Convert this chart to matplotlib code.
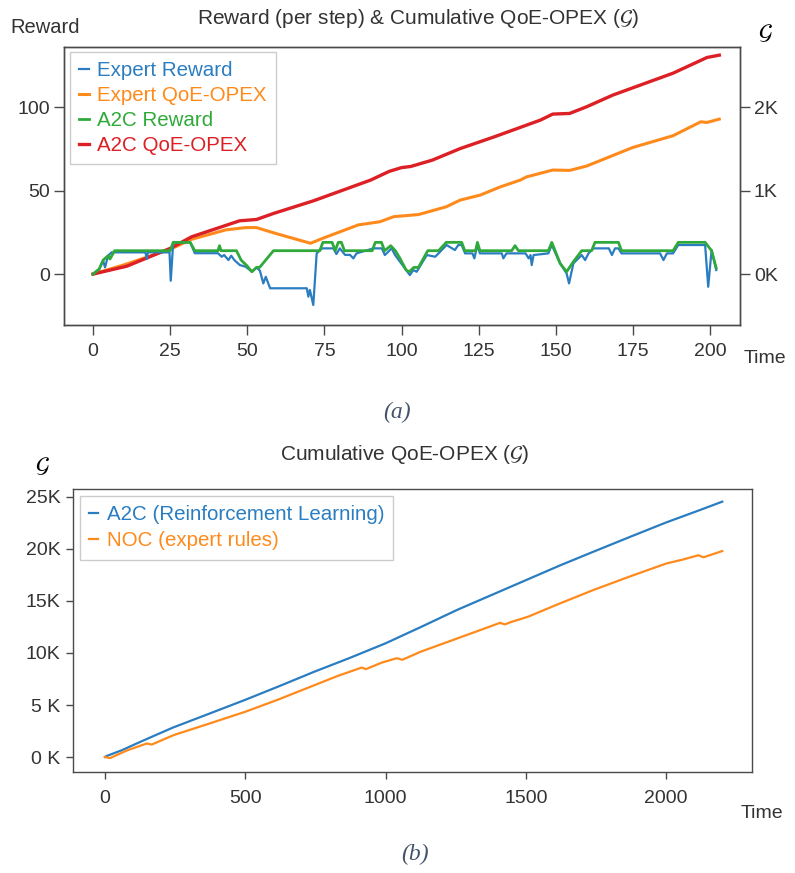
import matplotlib.pyplot as plt
from matplotlib.ticker import FixedLocator

plt.rcParams['font.family'] = ['Liberation Sans', 'DejaVu Sans']
plt.rcParams['mathtext.fontset'] = 'stix'

# --- (a) per-step reward (left axis units)
exp_rew_t = [0, 2, 3.3, 3.9, 4.9, 6, 17, 17.4, 17.8, 24.8, 25.2, 26, 31.5, 33, 40.5, 41.7,
             42.5, 43.9, 44.8, 45.8, 47.6, 49.5, 51.5, 53, 54.1, 55.2, 56, 57.4, 69.3, 69.8,
             70.3, 71.4, 72.5, 74.2, 77.9, 78.9, 80, 81.7, 83.3, 84.4, 85.4, 90.9, 93.6, 94.6,
             96.8, 97.9, 102.7, 103.8, 104.9, 108.2, 110.9, 112, 114.6, 117.3, 118.4, 119.5,
             120.6, 123, 123.6, 124.6, 125.4, 132.5, 133, 134, 140.2, 141.2, 141.8, 142.2,
             142.8, 147.6, 148.7, 151.4, 153.5, 154.3, 155.7, 158.4, 159.5, 160.6, 162.2,
             167.2, 168.2, 169.2, 170.3, 171.3, 183.8, 184.9, 186, 188, 189.7, 198.4, 199.4,
             200.5, 202]
exp_rew = [0, 3, 8, 4, 11, 13, 13, 9, 13, 13, -4, 19, 19, 12.5, 12.5, 10.4,
           11.4, 8.4, 11, 8.4, 5.4, 4.4, 1.4, 4, 2, -5.6, -1.6, -8.5, -8.5, -13.5,
           -9.5, -18.5, 12.4, 15.4, 15.4, 12, 15.4, 11.5, 11.5, 9.4, 12.4, 15.4, 15.4, 11.4,
           15.4, 11.4, -0.6, 2.4, 1.4, 11.4, 10.4, 12.4, 17.4, 14.4, 17.4, 17.4,
           12.4, 12.4, 9.4, 17.4, 12.4, 12.4, 9.4, 12.4, 12.4, 9.4, 11.4, 5.4,
           11.4, 12.4, 17.4, 6.4, 0.4, -5.6, 6.4, 11.4, 8.4, 12.4, 15.4,
           15.4, 11.4, 15.4, 15.4, 12.4, 12.4, 8.4, 12.4, 12.4, 17.4, 17.4, -7.6,
           14.4, 2.4]

a2c_rew_t = [0, 2, 3.3, 4.9, 5.5, 7, 25, 26, 31.5, 33, 40.5, 41, 41.5, 46.5, 48, 50, 51.5,
             53, 54, 58.5, 73.5, 74.5, 77.5, 78.5, 79.5, 80.5, 81.5, 90.5, 91.5, 93.5, 94.5,
             96.5, 98, 99.5, 101.5, 102.5, 104, 105.5, 108.5, 112, 114.5, 119.5, 120.5, 124,
             124.6, 125.4, 135.7, 136.8, 137.9, 147.6, 148.7, 151.4, 153.5, 155.7, 158.4,
             161.6, 162.7, 170.3, 171.3, 188, 189.7, 198.4, 200.5, 202]
a2c_rew = [0, 3, 8.4, 11, 9, 14, 14, 19, 19, 14, 14, 17, 14, 14, 8.4, 4.8, 1.4,
           4, 4, 14, 14, 19, 19, 14, 19, 19, 14, 14, 19, 19, 14,
           17, 14, 9.4, 2.4, 1.4, 4, 4, 14, 14, 19, 19, 14, 14,
           19, 14, 14, 17, 14, 14, 19, 6.4, 1.4, 7.4, 14,
           14, 19, 19, 14, 14, 19, 19, 14, 3.6]

# --- (a) cumulative QoE-OPEX (right axis, G units)
exp_g_t = [0, 10, 25, 32, 43, 49.5, 53, 59, 70.5, 74.5, 86, 93, 97.5, 101.5, 105.5, 114.5,
           119, 125.5, 132, 138.5, 140.5, 149, 154.5, 160, 175, 188, 197, 199, 203]
exp_g = [0, 110, 297, 417, 529, 557, 557, 489, 369, 429, 589, 627, 688, 700, 713, 806,
         886, 946, 1044, 1126, 1164, 1246, 1242, 1294, 1517, 1657, 1824, 1816, 1856]

a2c_g_t = [0, 11, 25, 32, 47.5, 53, 58.5, 71.5, 90, 96, 100, 103, 110, 119, 130, 145, 149,
           154.5, 160, 168.5, 188, 199, 203]
a2c_g = [0, 95, 308, 447, 638, 654, 726, 878, 1126, 1230, 1275, 1289, 1365, 1503, 1643,
         1844, 1916, 1924, 2004, 2144, 2406, 2594, 2622]

# --- (b) cumulative QoE-OPEX over 2200 steps
rl_t = [0, 6, 60, 113, 180, 244, 370, 500, 620, 746, 870, 1000, 1130, 1254, 1380, 1500,
        1620, 1741, 1870, 2000, 2121, 2200]
rl_g = [0, 100, 650, 1300, 2100, 2850, 4150, 5500, 6800, 8200, 9500, 10930, 12550, 14130,
        15600, 17000, 18400, 19740, 21150, 22550, 23750, 24550]

noc_t = [0, 18, 80, 149, 167, 244, 370, 500, 620, 746, 830, 915, 930, 986, 1040, 1060,
         1123, 1230, 1337, 1408, 1425, 1450, 1509, 1620, 1741, 1870, 2000, 2062, 2115,
         2133, 2200]
noc_g = [0, -100, 650, 1300, 1200, 2100, 3200, 4350, 5550, 6900, 7800, 8600, 8450, 9070,
         9500, 9350, 10100, 11150, 12200, 12900, 12750, 13000, 13500, 14750, 16060, 17350,
         18600, 19000, 19400, 19200, 19800]

blue = '#2a7dc0'
orange = '#ff8a1c'
green = '#2faa3a'
red = '#dc2026'
spine_c = '#4a4a4a'
text_c = '#333333'

fig = plt.figure(figsize=(7.95, 8.73), dpi=100)


def style(ax, tlen):
    for s in ax.spines.values():
        s.set_color(spine_c)
        s.set_linewidth(1.0)
    ax.tick_params(direction='out', length=tlen, width=1, color=spine_c,
                   labelsize=14, labelcolor=text_c)
    ax.tick_params(axis='x', pad=6)
    ax.tick_params(axis='y', pad=3)


# panel (a)
ax = fig.add_axes([0.0805, 0.6277, 0.8503, 0.3185])
ax2 = ax.twinx()
l1, = ax.plot(exp_rew_t, exp_rew, color=blue, lw=1.6, label='Expert Reward')
l3, = ax.plot(a2c_rew_t, a2c_rew, color=green, lw=2.0, label='A2C Reward')
l2, = ax2.plot(exp_g_t, exp_g, color=orange, lw=2.2, label='Expert QoE-OPEX')
l4, = ax2.plot(a2c_g_t, a2c_g, color=red, lw=2.4, label='A2C QoE-OPEX')
ax.set_xlim(-9.4, 209.7)
ax.set_ylim(-30.5, 136)
ax2.set_ylim(-610, 2720)
ax.set_xticks(range(0, 201, 25))
ax.set_yticks([0, 50, 100])
ax2.yaxis.set_major_locator(FixedLocator([0, 1000, 2000]))
ax2.set_yticklabels(['0K', '1K', '2K'])
style(ax, 7)
style(ax2, 7)
ax.set_zorder(ax2.get_zorder() + 1)
ax.patch.set_visible(False)
leg = ax.legend([l1, l2, l3, l4], [h.get_label() for h in (l1, l2, l3, l4)],
                loc='upper left', bbox_to_anchor=(0.009, 0.982), borderaxespad=0,
                fontsize=14.8, labelcolor='linecolor', handlelength=0.45, handletextpad=0.4,
                labelspacing=0.29, fancybox=False, edgecolor='#cccccc', framealpha=1,
                borderpad=0.45)
leg.get_frame().set_linewidth(1.0)

fig.text(0.013, 0.969, 'Reward', fontsize=14.5, color=text_c, ha='left', va='center')
fig.text(0.526, 0.979, r'Reward (per step) & Cumulative QoE-OPEX ($\mathcal{G}$)',
         fontsize=15, color=text_c, ha='center', va='center')
fig.text(0.963, 0.962, r'$\mathcal{G}$', fontsize=16, color='black', ha='center', va='center')
fig.text(0.935, 0.589, 'Time', fontsize=14, color=text_c, ha='left', va='center')
fig.text(0.4994, 0.528, '(a)', fontsize=17, color='#44546a', ha='center', va='center',
         family='Liberation Serif', style='italic')

# panel (b)
bx = fig.add_axes([0.0918, 0.1157, 0.8541, 0.3242])
lb1, = bx.plot(rl_t, rl_g, color=blue, lw=1.6, label='A2C (Reinforcement Learning)')
lb2, = bx.plot(noc_t, noc_g, color=orange, lw=1.6, label='NOC (expert rules)')
bx.set_xlim(-114, 2306)
bx.set_ylim(-1440, 25770)
bx.set_xticks([0, 500, 1000, 1500, 2000])
bx.yaxis.set_major_locator(FixedLocator([0, 5000, 10000, 15000, 20000, 25000]))
bx.set_yticklabels(['0 K', '5 K', '10K', '15K', '20K', '25K'])
style(bx, 5)
bx.tick_params(axis='y', pad=4)
bx.tick_params(axis='x', pad=8)
leg2 = bx.legend(loc='upper left', bbox_to_anchor=(0.0103, 0.975), borderaxespad=0,
                 fontsize=14.8, labelcolor='linecolor', handlelength=0.45, handletextpad=0.4,
                 labelspacing=0.35, fancybox=False, edgecolor='#cccccc', framealpha=1,
                 borderpad=0.45)
leg2.get_frame().set_linewidth(1.0)

fig.text(0.509, 0.479, r'Cumulative QoE-OPEX ($\mathcal{G}$)', fontsize=15,
         color=text_c, ha='center', va='center')
fig.text(0.053, 0.466, r'$\mathcal{G}$', fontsize=16, color='black', ha='center', va='center')
fig.text(0.931, 0.068, 'Time', fontsize=14, color=text_c, ha='left', va='center')
fig.text(0.522, 0.021, '(b)', fontsize=17, color='#44546a', ha='center', va='center',
         family='Liberation Serif', style='italic')

fig.savefig('out.png', dpi=100)
